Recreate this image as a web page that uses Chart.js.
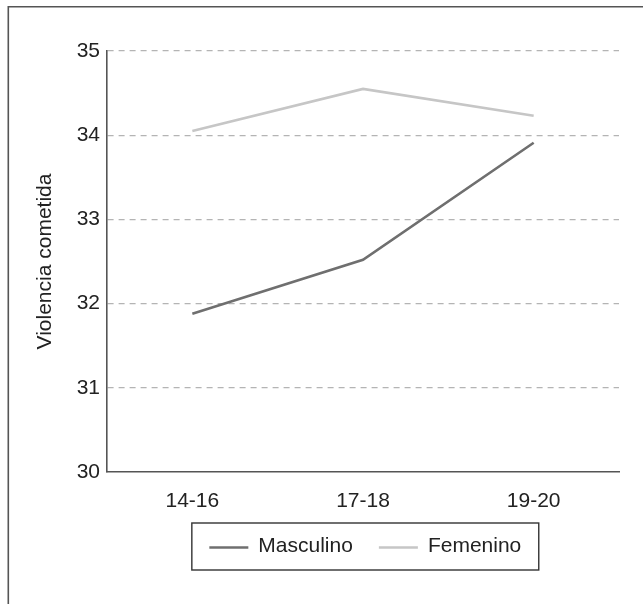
<!DOCTYPE html>
<html>
<head>
<meta charset="utf-8">
<script src="https://cdn.jsdelivr.net/npm/chart.js@4.4.0/dist/chart.umd.min.js"></script>
<style>
  html, body { margin: 0; padding: 0; background: #fff; }
  #wrap { width: 643px; height: 604px; position: relative; }
</style>
</head>
<body>
<div id="wrap"><canvas id="c" width="643" height="604"></canvas></div>
<script>
const categories = ['14-16', '17-18', '19-20'];
const masculino = [31.88, 32.52, 33.91];
const femenino = [34.05, 34.55, 34.23];
const seriesNames = ['Masculino', 'Femenino'];
const yTitle = 'Violencia cometida';
const yMin = 30, yMax = 35, yStep = 1;

const FONT = "'Liberation Sans', Arial, Helvetica, sans-serif";
const TEXT = '#222222';
const COL_M = '#6f6f6f';
const COL_F = '#c6c6c6';

const framePlugin = {
  id: 'frame',
  beforeDraw(chart) {
    const ctx = chart.ctx;
    ctx.save();
    ctx.fillStyle = '#ffffff';
    ctx.fillRect(0, 0, chart.width, chart.height);
    ctx.strokeStyle = '#555555';
    ctx.lineWidth = 1.6;
    ctx.beginPath();
    ctx.moveTo(8.3, chart.height + 2);
    ctx.lineTo(8.3, 6.8);
    ctx.lineTo(chart.width + 2, 6.8);
    ctx.stroke();
    ctx.restore();
  }
};

const legendPlugin = {
  id: 'boxLegend',
  afterDraw(chart) {
    const ctx = chart.ctx;
    ctx.save();
    ctx.font = '21px ' + FONT;
    const lineLen = 39, gap = 10, itemGap = 26, padX = 17.5;
    const items = chart.data.datasets.map(ds => ({
      label: ds.label, color: ds.borderColor, w: ctx.measureText(ds.label).width
    }));
    let inner = 0;
    items.forEach((it, i) => { inner += lineLen + gap + it.w + (i ? itemGap : 0); });
    const boxW = inner + padX * 2;
    const boxH = 47;
    const cx = 365.3;
    const left = cx - boxW / 2;
    const top = 523;
    ctx.strokeStyle = '#333333';
    ctx.lineWidth = 1.4;
    ctx.strokeRect(left, top, boxW, boxH);
    let x = left + padX;
    const cy = top + boxH / 2 + 1;
    items.forEach((it, i) => {
      if (i) x += itemGap;
      ctx.strokeStyle = it.color;
      ctx.lineWidth = 2.6;
      ctx.beginPath();
      ctx.moveTo(x, cy);
      ctx.lineTo(x + lineLen, cy);
      ctx.stroke();
      x += lineLen + gap;
      ctx.fillStyle = TEXT;
      ctx.textBaseline = 'middle';
      ctx.textAlign = 'left';
      ctx.fillText(it.label, x, cy - 1);
      x += it.w;
    });
    ctx.restore();
  }
};

new Chart(document.getElementById('c'), {
  type: 'line',
  data: {
    labels: categories,
    datasets: [
      { label: seriesNames[0], data: masculino, borderColor: COL_M, backgroundColor: COL_M,
        borderWidth: 2.6, pointRadius: 0, tension: 0, fill: false },
      { label: seriesNames[1], data: femenino, borderColor: COL_F, backgroundColor: COL_F,
        borderWidth: 2.6, pointRadius: 0, tension: 0, fill: false }
    ]
  },
  options: {
    responsive: false,
    animation: false,
    devicePixelRatio: 1,
    layout: { padding: { left: 0, right: 24, top: 51, bottom: 92 } },
    plugins: {
      legend: { display: false },
      tooltip: { enabled: false }
    },
    scales: {
      x: {
        offset: true,
        grid: { display: false },
        border: { display: true, color: '#555555', width: 1.6 },
        ticks: { color: TEXT, font: { family: FONT, size: 21 }, padding: 9 },
        afterFit(scale) { scale.height = 40; }
      },
      y: {
        min: yMin, max: yMax,
        grid: {
          drawTicks: false,
          color: (c) => (c.tick && c.tick.value === yMin) ? 'rgba(0,0,0,0)' : '#b4b4b4',
          lineWidth: 1.2
        },
        border: { display: true, color: '#555555', width: 1.6, dash: [6, 5] },
        ticks: { stepSize: yStep, color: TEXT, font: { family: FONT, size: 21 }, padding: 7 },
        title: { display: true, text: yTitle, color: TEXT, font: { family: FONT, size: 21 },
                 padding: { top: 33, bottom: 0 } },
        afterFit(scale) { scale.width = 107; }
      }
    }
  },
  plugins: [framePlugin, legendPlugin]
});
</script>
</body>
</html>
